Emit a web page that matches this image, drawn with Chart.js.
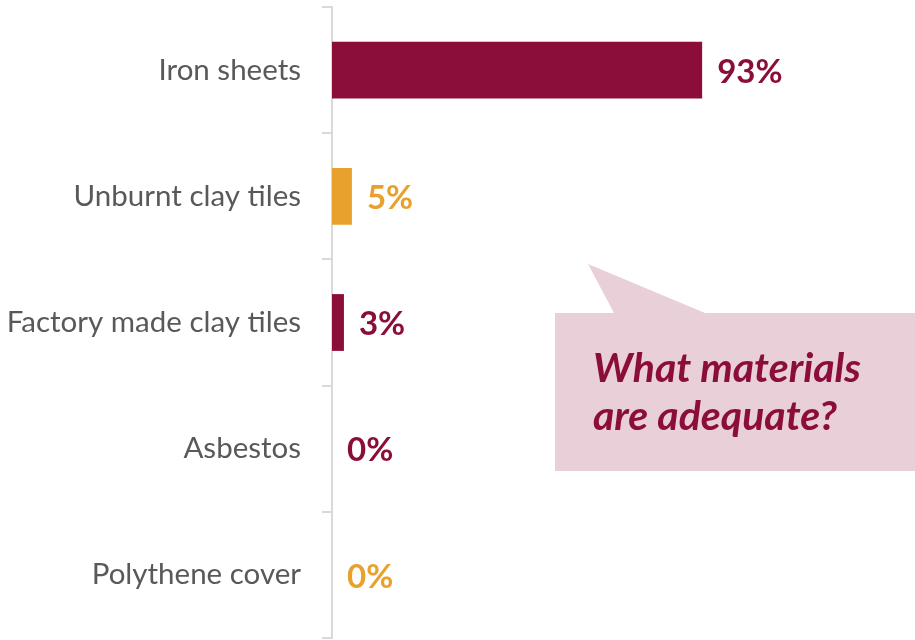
<!DOCTYPE html>
<html>
<head>
<meta charset="utf-8">
<script src="https://cdn.jsdelivr.net/npm/chart.js@4.4.1/dist/chart.umd.min.js"></script>
<style>
  html, body { margin: 0; padding: 0; background: #fff; }
  #wrap { width: 915px; height: 640px; position: relative; }
</style>
</head>
<body>
<div id="wrap"><canvas id="roofChart"></canvas></div>
<script>
const categories = ['Iron sheets', 'Unburnt clay tiles', 'Factory made clay tiles', 'Asbestos', 'Polythene cover'];
const shares = [93, 5, 3, 0, 0];
const barColors = ['#8B0E3A', '#E8A12C', '#8B0E3A', '#8B0E3A', '#E8A12C'];
const calloutLines = ['What materials', 'are adequate?'];

const MAROON = '#8B0E3A';

// percentage labels just past the end of each bar
const valueLabels = {
    id: 'valueLabels',
    afterDatasetsDraw(chart) {
        const ctx = chart.ctx;
        const meta = chart.getDatasetMeta(0);
        ctx.save();
        ctx.font = 'bold 33px Lato';
        ctx.textAlign = 'left';
        ctx.textBaseline = 'middle';
        meta.data.forEach((bar, i) => {
            ctx.fillStyle = barColors[i];
            ctx.fillText(shares[i] + '%', bar.x + 15, bar.y + 2);
        });
        ctx.restore();
    }
};

// speech bubble with the question
const callout = {
    id: 'callout',
    afterDraw(chart) {
        const ctx = chart.ctx;
        ctx.save();
        ctx.fillStyle = '#E8CFD8';
        ctx.beginPath();
        ctx.moveTo(555, 313);
        ctx.lineTo(614, 313);
        ctx.lineTo(588, 264);
        ctx.lineTo(705, 313);
        ctx.lineTo(915, 313);
        ctx.lineTo(915, 471);
        ctx.lineTo(555, 471);
        ctx.closePath();
        ctx.fill();

        ctx.fillStyle = MAROON;
        ctx.font = 'italic bold 41px Lato';
        ctx.textAlign = 'left';
        ctx.textBaseline = 'alphabetic';
        ctx.fillText(calloutLines[0], 593, 382);
        ctx.fillText(calloutLines[1], 593, 430);
        ctx.restore();
    }
};

new Chart(document.getElementById('roofChart'), {
    type: 'bar',
    data: {
        labels: categories,
        datasets: [{
            data: shares,
            backgroundColor: barColors,
            categoryPercentage: 1,
            barPercentage: 0.45
        }]
    },
    options: {
        indexAxis: 'y',
        responsive: true,
        maintainAspectRatio: false,
        animation: false,
        layout: { padding: { top: 7, bottom: 2, left: 0, right: 185 } },
        plugins: {
            legend: { display: false },
            tooltip: { enabled: false }
        },
        scales: {
            x: {
                display: false,
                min: 0,
                max: 100
            },
            y: {
                afterFit(scale) {
                    scale.width = 332;
                    // labels sit at band centres, no extra room needed above/below
                    scale.paddingTop = 0;
                    scale.paddingBottom = 0;
                },
                border: { display: true, color: '#D9D9D9', width: 2 },
                grid: {
                    offset: true,
                    drawOnChartArea: false,
                    drawTicks: true,
                    tickLength: 10,
                    color: '#D9D9D9',
                    lineWidth: 2
                },
                ticks: {
                    padding: 21,
                    color: '#595959',
                    font: { family: 'Lato', size: 29.5 }
                }
            }
        }
    },
    plugins: [valueLabels, callout]
});
</script>
</body>
</html>
